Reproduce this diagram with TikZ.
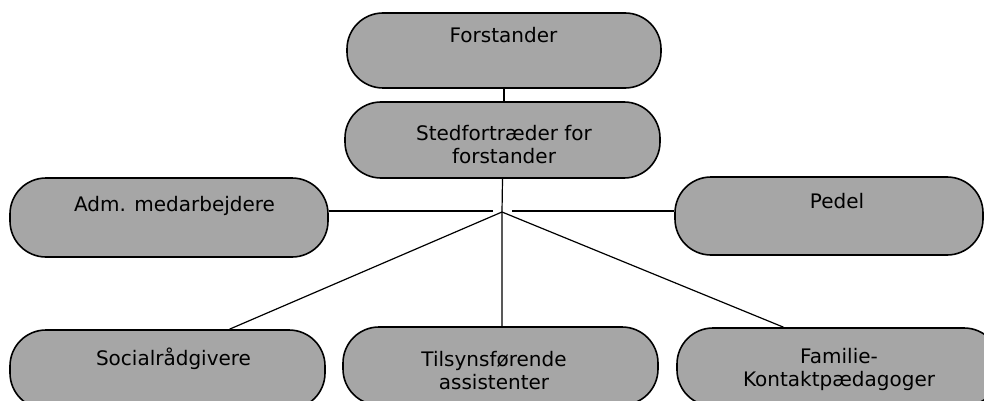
\documentclass[tikz,border=0pt]{standalone}
\usepackage{fontspec}
\setmainfont{DejaVu Sans}
\usetikzlibrary{positioning}

\tikzset{
  unit/.style={draw=black, line width=1.6pt, fill=black!35, rounded corners=36pt, inner sep=0pt},
  unittext/.style={anchor=north, inner sep=0pt, align=center, font=\fontsize{20}{23}\selectfont},
  link/.style={line width=1.2pt}
}

\begin{document}
\begin{tikzpicture}[x=1pt, y=-1pt]
    \clip (0,0) rectangle (984,401);

    % Boxes
    \node[unit, minimum width=314pt, minimum height=75pt] (forst) at (504,50.5) {};
    \node[unit, minimum width=315pt, minimum height=76pt] (sted) at (502.5,140) {};
    \node[unit, minimum width=318pt, minimum height=79pt] (adm) at (169,217.5) {};
    \node[unit, minimum width=308pt, minimum height=78pt] (pedel) at (829,216) {};
    \node[unit, minimum width=315pt, minimum height=79pt] (social) at (167.5,369.5) {};
    \node[unit, minimum width=315pt, minimum height=78pt] (tilsyn) at (500.5,366) {};
    \node[unit, minimum width=323pt, minimum height=78pt] (familie) at (838.5,367) {};

    % Texts
    \node[unittext] (forst-t) at (503.5,27) {Forstander};
    \node[unittext] (sted-t) at (504,125) {Stedfortræder for\\forstander};
    \node[unittext] (adm-t) at (174.5,196) {Adm. medarbejdere};
    \node[unittext] (pedel-t) at (837,193) {Pedel};
    \node[unittext] (social-t) at (173.5,348) {Socialrådgivere};
    \node[unittext] (tilsyn-t) at (494,351) {Tilsynsførende\\assistenter};
    \node[unittext] (familie-t) at (839,348) {Familie-\\Kontaktpædagoger};

    % Connectors
    \coordinate (hub) at (502,212);
    \coordinate (admend) at (493,211);
    \coordinate (pedelend) at (512,211);
    \draw[link] (forst.south) -- (forst.south |- sted.north);
    \draw[link] (sted.south) -- (hub) -- (hub |- tilsyn.north);
    \draw[link] (adm.east |- admend) -- (admend);
    \draw[link] (pedelend) -- (pedel.west |- pedelend);
    \draw[link] (hub) -- ([xshift=62pt]social.north);
    \draw[link] (hub) -- ([xshift=-55pt]familie.north);
\end{tikzpicture}
\end{document}
